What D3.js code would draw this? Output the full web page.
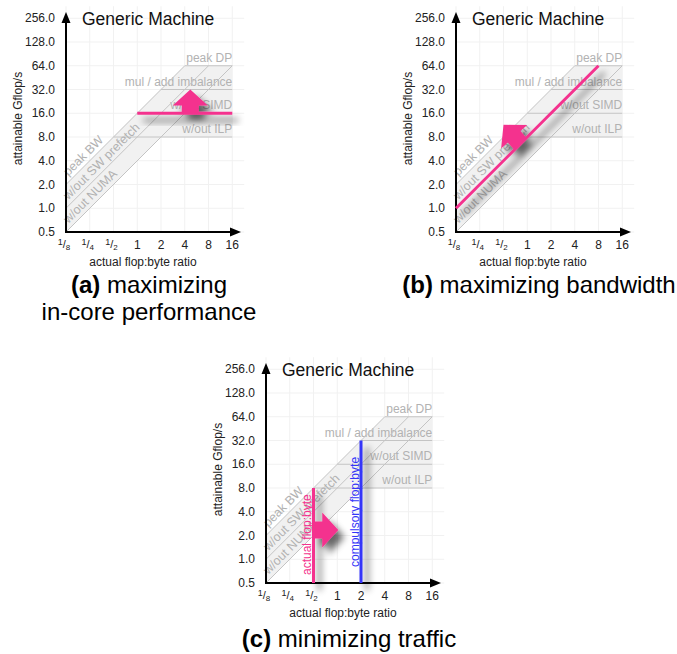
<!DOCTYPE html>
<html>
<head>
<meta charset="utf-8">
<script src="https://cdn.jsdelivr.net/npm/d3@7"></script>
<style>
  html, body { margin: 0; padding: 0; background: #fff; }
  svg { display: block; font-family: "Liberation Sans", Arial, sans-serif; }
</style>
</head>
<body>
<svg id="chart" width="677" height="654"></svg>
<script>
// ---------- data ----------
const xTicks = [1/8, 1/4, 1/2, 1, 2, 4, 8, 16];
const xTickLabels = [["1","8"], ["1","4"], ["1","2"], "1", "2", "4", "8", "16"];
const yTicks = [0.5, 1, 2, 4, 8, 16, 32, 64, 128, 256];
const yTickLabels = ["0.5", "1.0", "2.0", "4.0", "8.0", "16.0", "32.0", "64.0", "128.0", "256.0"];

const ceilingNames = ["peak DP", "mul / add imbalance", "w/out SIMD", "w/out ILP"];
const ceilingValues = [64, 32, 16, 8];          // Gflop/s
const bandwidthNames = ["peak BW", "w/out SW prefetch", "w/out NUMA"];
const bandwidthValues = [16, 8, 4];              // GB/s

const machineTitle = "Generic Machine";
const xTitle = "actual flop:byte ratio";
const yTitle = "attainable Gflop/s";

const panelIds = ["a", "b", "c"];
const captionBold = ["(a)", "(b)", "(c)"];
const captionLines = [["maximizing", "in-core performance"], ["maximizing bandwidth"], ["minimizing traffic"]];

// overlays (data units: flop:byte ratio, Gflop/s)
const panelAPinkRatios = [1, 16];      // horizontal pink ceiling at 16 Gflop/s
const panelAPinkLevel = 16;
const panelAArrow = { from: [4.7, 16], to: [4.7, 32] };

const panelBPinkBandwidth = 8;         // pink diagonal (GB/s)
const panelBPinkRatios = [1/8, 8];
const panelBArrow = { from: [0.82, 6.56], to: [0.5, 11.4] };

const panelCLineNames = ["actual flop:byte", "compulsory flop:byte"];
const panelCLineRatios = [0.5, 2];
const panelCLineTops = [8, 32];
const panelCArrow = { from: [0.5, 2.35], to: [1.03, 2.35] };

// ---------- layout ----------
const svg = d3.select("#chart");
const STEP = 23.75;
const origins = { a: [66, 232], b: [456, 232], c: [266, 583] };
const PINK = "#f4338e", BLUE = "#3535f8";
const ROOF = "#c4c4c4", ROOFTXT = "#b2b2b2", FILL = "#f1f1f1", GRID = "#f1f1f1";

const defs = svg.append("defs");
const f = defs.append("filter").attr("id", "shadow")
  .attr("x", "-50%").attr("y", "-50%").attr("width", "200%").attr("height", "200%");
f.append("feGaussianBlur").attr("in", "SourceAlpha").attr("stdDeviation", 3.5).attr("result", "b");
f.append("feOffset").attr("in", "b").attr("dx", 6).attr("dy", 7).attr("result", "o");
f.append("feComponentTransfer").attr("in", "o").attr("result", "s")
  .append("feFuncA").attr("type", "linear").attr("slope", 0.6);
const m = f.append("feMerge");
m.append("feMergeNode").attr("in", "s");
m.append("feMergeNode").attr("in", "SourceGraphic");

function drawArrow(g, x, y, arrow, color) {
  const x0 = x(arrow.from[0]), y0 = y(arrow.from[1]);
  const x1 = x(arrow.to[0]), y1 = y(arrow.to[1]);
  const L = Math.hypot(x1 - x0, y1 - y0);
  const ang = Math.atan2(y1 - y0, x1 - x0) * 180 / Math.PI;
  const h = 16, hw = 17.5, sw = 8.5;
  const pts = [[0, -sw], [L - h, -sw], [L - h, -hw], [L, 0], [L - h, hw], [L - h, sw], [0, sw]];
  g.append("path")
    .attr("d", d3.line()(pts) + "Z")
    .attr("fill", color)
    .attr("transform", `translate(${x0},${y0}) rotate(${ang})`);
}

panelIds.forEach((id, pi) => {
  const [ox, oy] = origins[id];
  const x = d3.scaleLog().base(2).domain([1/8, 16]).range([ox, ox + 7 * STEP]);
  const y = d3.scaleLog().base(2).domain([0.5, 256]).range([oy, oy - 9 * STEP]);
  const g = svg.append("g");

  // grid
  g.append("g").selectAll("line").data(xTicks).join("line")
    .attr("x1", d => x(d)).attr("x2", d => x(d))
    .attr("y1", oy).attr("y2", y(256) - 12)
    .attr("stroke", GRID).attr("stroke-width", 1);
  g.append("g").selectAll("line").data(yTicks).join("line")
    .attr("x1", ox).attr("x2", x(16) + 12)
    .attr("y1", d => y(d)).attr("y2", d => y(d))
    .attr("stroke", GRID).attr("stroke-width", 1);

  // shaded region between top and bottom rooflines
  const peakC = d3.max(ceilingValues), lowC = d3.min(ceilingValues);
  const peakB = d3.max(bandwidthValues), lowB = d3.min(bandwidthValues);
  const region = [
    [x(1/8), y(peakB / 8)], [x(peakC / peakB), y(peakC)], [x(16), y(peakC)],
    [x(16), y(lowC)], [x(lowC / lowB), y(lowC)], [x(1/8), y(lowB / 8)]
  ];
  g.append("path").attr("d", d3.line()(region) + "Z").attr("fill", FILL);

  // ceilings
  ceilingValues.forEach((c, i) => {
    const r0 = c / peakB;
    g.append("line")
      .attr("x1", x(r0)).attr("x2", x(16)).attr("y1", y(c)).attr("y2", y(c))
      .attr("stroke", ROOF).attr("stroke-width", 1);
    g.append("text")
      .attr("x", x(16)).attr("y", y(c) - 4)
      .attr("text-anchor", "end").attr("font-size", 12).attr("fill", ROOFTXT)
      .text(ceilingNames[i]);
  });
  // bandwidth diagonals
  bandwidthValues.forEach((b, i) => {
    g.append("line")
      .attr("x1", x(1/8)).attr("y1", y(b / 8))
      .attr("x2", x(peakC / b)).attr("y2", y(peakC))
      .attr("stroke", ROOF).attr("stroke-width", 1);
    const r = 0.145;
    g.append("text")
      .attr("transform", `translate(${x(r)},${y(b * r)}) rotate(-45)`)
      .attr("dy", -4)
      .attr("font-size", 12.5).attr("fill", ROOFTXT)
      .text(bandwidthNames[i]);
  });

  // axes
  g.append("line").attr("x1", ox).attr("x2", ox).attr("y1", oy + 1).attr("y2", oy - 212)
    .attr("stroke", "#000").attr("stroke-width", 2);
  g.append("path").attr("d", `M${ox},${oy - 220} L${ox - 4.5},${oy - 209} L${ox + 4.5},${oy - 209} Z`).attr("fill", "#000");
  g.append("line").attr("x1", ox - 1).attr("x2", ox + 166).attr("y1", oy).attr("y2", oy)
    .attr("stroke", "#000").attr("stroke-width", 2);
  g.append("path").attr("d", `M${ox + 175},${oy} L${ox + 164},${oy - 4.5} L${ox + 164},${oy + 4.5} Z`).attr("fill", "#000");

  // y tick labels
  g.append("g").selectAll("text").data(yTicks).join("text")
    .attr("x", ox - 11).attr("y", d => y(d) + 4)
    .attr("text-anchor", "end").attr("font-size", 12).attr("fill", "#222")
    .text((d, i) => yTickLabels[i]);
  // x tick labels
  xTicks.forEach((d, i) => {
    const lab = xTickLabels[i];
    const t = g.append("text").attr("x", x(d) - (Array.isArray(lab) ? 2 : 0)).attr("y", oy + 17)
      .attr("text-anchor", "middle").attr("font-size", 12).attr("fill", "#222");
    if (Array.isArray(lab)) {
      t.append("tspan").attr("font-size", 9).attr("dy", -4).text(lab[0]);
      t.append("tspan").attr("font-size", 11).attr("dy", 3).text("/");
      t.append("tspan").attr("font-size", 8).attr("dy", 2).text(lab[1]);
    } else {
      t.text(lab);
    }
  });

  // titles
  g.append("text").attr("x", ox + 16).attr("y", oy - 207)
    .attr("font-size", 17.5).attr("fill", "#111").text(machineTitle);
  g.append("text").attr("x", ox + 77).attr("y", oy + 34)
    .attr("text-anchor", "middle").attr("font-size", 12).attr("fill", "#222").text(xTitle);
  g.append("text")
    .attr("transform", `translate(${ox - 44.5},${oy - 113.5}) rotate(-90)`)
    .attr("text-anchor", "middle").attr("font-size", 12).attr("fill", "#222").text(yTitle);

  // overlays
  const ov = g.append("g").attr("filter", "url(#shadow)");
  if (id === "a") {
    ov.append("line")
      .attr("x1", x(panelAPinkRatios[0])).attr("x2", x(panelAPinkRatios[1]))
      .attr("y1", y(panelAPinkLevel)).attr("y2", y(panelAPinkLevel))
      .attr("stroke", PINK).attr("stroke-width", 3);
    drawArrow(ov, x, y, panelAArrow, PINK);
  } else if (id === "b") {
    ov.append("line")
      .attr("x1", x(panelBPinkRatios[0])).attr("y1", y(panelBPinkBandwidth * panelBPinkRatios[0]))
      .attr("x2", x(panelBPinkRatios[1])).attr("y2", y(panelBPinkBandwidth * panelBPinkRatios[1]))
      .attr("stroke", PINK).attr("stroke-width", 3);
    drawArrow(ov, x, y, panelBArrow, PINK);
  } else {
    const cols = [PINK, BLUE];
    panelCLineRatios.forEach((r, i) => {
      ov.append("line")
        .attr("x1", x(r)).attr("x2", x(r)).attr("y1", oy).attr("y2", y(panelCLineTops[i]))
        .attr("stroke", cols[i]).attr("stroke-width", 3);
    });
    drawArrow(ov, x, y, panelCArrow, PINK);
    panelCLineRatios.forEach((r, i) => {
      g.append("text")
        .attr("transform", `translate(${x(r) - 2.5},${oy - (i === 0 ? 8 : 16)}) rotate(-90)`)
        .attr("font-size", 12).attr("fill", cols[i]).text(panelCLineNames[i]);
    });
  }

  // caption
  const capY = id === "c" ? 647 : 293;
  const cx = ox + 83;
  const cap = svg.append("text").attr("x", cx).attr("y", capY)
    .attr("text-anchor", "middle").attr("font-size", 24).attr("fill", "#000");
  cap.append("tspan").attr("font-weight", "bold").text(captionBold[pi]);
  cap.append("tspan").text(" " + captionLines[pi][0]);
  if (captionLines[pi].length > 1) {
    svg.append("text").attr("x", cx).attr("y", capY + 27)
      .attr("text-anchor", "middle").attr("font-size", 24).attr("fill", "#000")
      .text(captionLines[pi][1]);
  }
});
</script>
</body>
</html>
